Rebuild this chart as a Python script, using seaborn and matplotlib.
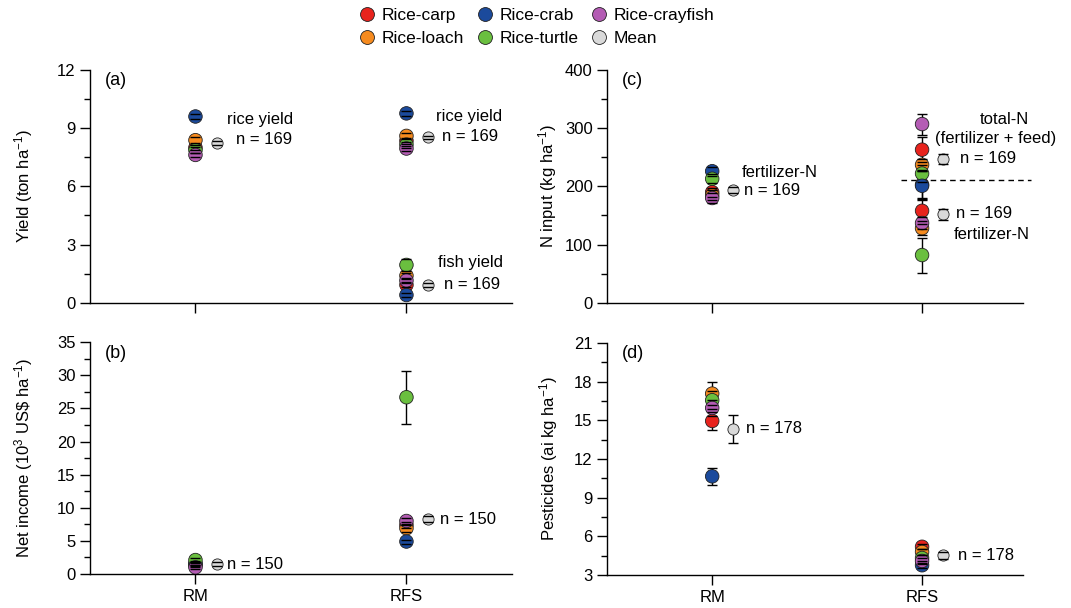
import numpy as np
import pandas as pd
import matplotlib
matplotlib.use("Agg")
import matplotlib.pyplot as plt
from matplotlib.lines import Line2D
from matplotlib.ticker import MultipleLocator
import seaborn as sns

# categories
types = ["Rice-carp", "Rice-loach", "Rice-crab", "Rice-turtle", "Rice-crayfish"]
systems = ["RM", "RFS"]
colors = {"Rice-carp": "#E8231D", "Rice-loach": "#F68B1F", "Rice-crab": "#1B4A9C",
          "Rice-turtle": "#6ABF3F", "Rice-crayfish": "#B45CB4", "Mean": "#D9D9D9"}

# (a) yield (ton/ha)
rice_yield_rm = [8.0, 8.38, 9.6, 7.87, 7.62]
rice_yield_rm_err = [0.15, 0.15, 0.12, 0.15, 0.12]
rice_yield_rm_mean = [8.25, 0.1]
rice_yield_rfs = [8.35, 8.6, 9.76, 8.15, 7.95]
rice_yield_rfs_err = [0.15, 0.15, 0.12, 0.15, 0.12]
rice_yield_rfs_mean = [8.52, 0.1]
fish_yield_rfs = [0.92, 1.4, 0.4, 1.95, 1.15]
fish_yield_rfs_err = [0.12, 0.12, 0.1, 0.3, 0.1]
fish_yield_rfs_mean = [0.92, 0.1]

# (b) net income (10^3 US$/ha)
income_rm = [1.3, 1.5, 1.6, 2.1, 1.0]
income_rm_err = [0.3, 0.3, 0.3, 0.3, 0.3]
income_rm_mean = [1.46, 0.3]
income_rfs = [7.4, 6.9, 4.9, 26.7, 8.0]
income_rfs_err = [0.5, 0.5, 0.3, 4.0, 0.4]
income_rfs_mean = [8.3, 0.5]

# (c) N input (kg/ha)
fertn_rm = [190, 185, 226, 213, 180]
fertn_rm_err = [8, 8, 8, 8, 8]
fertn_rm_mean = [194, 5]
totaln_rfs = [263, 237, 203, 222, 307]
totaln_rfs_err = [22, 10, 25, 15, 18]
totaln_rfs_mean = [247, 9]
fertn_rfs = [158, 128, 201, 82, 137]
fertn_rfs_err = [22, 12, 25, 30, 10]
fertn_rfs_mean = [152, 9]

# (d) pesticides (ai kg/ha)
pest_rm = [14.95, 17.07, 10.66, 16.56, 15.96]
pest_rm_err = [0.7, 0.9, 0.65, 0.7, 0.6]
pest_rm_mean = [14.36, 1.08]
pest_rfs = [5.2, 4.8, 3.77, 4.33, 4.1]
pest_rfs_err = [0.2, 0.2, 0.2, 0.2, 0.2]
pest_rfs_mean = [4.54, 0.25]


def make_df(pos, vals, errs, mean):
    df = pd.DataFrame({"type": types, "x": pos, "value": vals, "err": errs})
    m = pd.DataFrame({"type": ["Mean"], "x": [pos + 0.1], "value": [mean[0]], "err": [mean[1]]})
    return pd.concat([df, m], ignore_index=True)


def draw(ax, df):
    sns.scatterplot(data=df[df.type != "Mean"], x="x", y="value", hue="type", palette=colors,
                    s=95, edgecolor="#222222", linewidth=0.6, legend=False, ax=ax, zorder=3)
    sns.scatterplot(data=df[df.type == "Mean"], x="x", y="value", hue="type", palette=colors,
                    s=65, edgecolor="#222222", linewidth=0.6, legend=False, ax=ax, zorder=3)
    _, caps, bars = ax.errorbar(df.x, df.value, yerr=df.err, fmt="none", ecolor="black",
                                elinewidth=1, capsize=3.5, capthick=1, zorder=2)
    for c in caps:
        c.set_zorder(4)


sns.set_style("ticks")
plt.rcParams["font.family"] = ["Liberation Sans", "DejaVu Sans"]
plt.rcParams["mathtext.default"] = "regular"
for k in ["text.color", "axes.labelcolor", "xtick.color", "ytick.color"]:
    plt.rcParams[k] = "black"
fs = 12

fig = plt.figure(figsize=(10.71, 6.08), dpi=100)
axa = fig.add_axes([0.084, 0.502, 0.394, 0.383])
axb = fig.add_axes([0.084, 0.056, 0.394, 0.381])
axc = fig.add_axes([0.567, 0.502, 0.388, 0.383])
axd = fig.add_axes([0.567, 0.054, 0.388, 0.382])

# panel a
draw(axa, make_df(0, rice_yield_rm, rice_yield_rm_err, rice_yield_rm_mean))
draw(axa, make_df(1, rice_yield_rfs, rice_yield_rfs_err, rice_yield_rfs_mean))
draw(axa, make_df(1, fish_yield_rfs, fish_yield_rfs_err, fish_yield_rfs_mean))
axa.set_ylim(0, 12)
axa.yaxis.set_major_locator(MultipleLocator(3))
axa.yaxis.set_minor_locator(MultipleLocator(1.5))
axa.set_ylabel("Yield (ton ha$^{-1}$)", fontsize=fs, labelpad=16)
axa.text(0.15, 9.47, "rice yield", fontsize=fs, va="center")
axa.text(0.19, 8.4, "n = 169", fontsize=fs, va="center")
axa.text(1.14, 9.58, "rice yield", fontsize=fs, va="center")
axa.text(1.17, 8.55, "n = 169", fontsize=fs, va="center")
axa.text(1.15, 2.06, "fish yield", fontsize=fs, va="center")
axa.text(1.18, 0.93, "n = 169", fontsize=fs, va="center")

# panel b
draw(axb, make_df(0, income_rm, income_rm_err, income_rm_mean))
draw(axb, make_df(1, income_rfs, income_rfs_err, income_rfs_mean))
axb.set_ylim(0, 35)
axb.yaxis.set_major_locator(MultipleLocator(5))
axb.yaxis.set_minor_locator(MultipleLocator(2.5))
axb.set_ylabel("Net income (10$^{3}$ US\\$ ha$^{-1}$)", fontsize=fs, labelpad=16)
axb.text(0.15, 1.5, "n = 150", fontsize=fs, va="center")
axb.text(1.16, 8.3, "n = 150", fontsize=fs, va="center")

# panel c
draw(axc, make_df(0, fertn_rm, fertn_rm_err, fertn_rm_mean))
draw(axc, make_df(1, totaln_rfs, totaln_rfs_err, totaln_rfs_mean))
draw(axc, make_df(1, fertn_rfs, fertn_rfs_err, fertn_rfs_mean))
axc.set_ylim(0, 400)
axc.yaxis.set_major_locator(MultipleLocator(100))
axc.yaxis.set_minor_locator(MultipleLocator(50))
axc.set_ylabel("N input (kg ha$^{-1}$)", fontsize=fs)
axc.text(0.14, 224, "fertilizer-N", fontsize=fs, va="center")
axc.text(0.15, 193, "n = 169", fontsize=fs, va="center")
axc.text(1.39, 315, "total-N", fontsize=fs, va="center", ha="center")
axc.text(1.35, 283, "(fertilizer + feed)", fontsize=fs, va="center", ha="center")
axc.text(1.18, 247, "n = 169", fontsize=fs, va="center")
axc.text(1.16, 153, "n = 169", fontsize=fs, va="center")
axc.text(1.33, 117, "fertilizer-N", fontsize=fs, va="center", ha="center")
axc.plot([0.9, 1.52], [211, 211], ls=(0, (4, 3)), color="black", lw=1, clip_on=False)

# panel d
draw(axd, make_df(0, pest_rm, pest_rm_err, pest_rm_mean))
draw(axd, make_df(1, pest_rfs, pest_rfs_err, pest_rfs_mean))
axd.set_ylim(3, 21)
axd.yaxis.set_major_locator(MultipleLocator(3))
axd.yaxis.set_minor_locator(MultipleLocator(1.5))
axd.set_ylabel("Pesticides (ai kg ha$^{-1}$)", fontsize=fs, labelpad=10)
axd.text(0.16, 14.4, "n = 178", fontsize=fs, va="center")
axd.text(1.17, 4.55, "n = 178", fontsize=fs, va="center")

for ax, lab in zip([axa, axb, axc, axd], ["(a)", "(b)", "(c)", "(d)"]):
    ax.set_xlim(-0.5, 1.48 if ax in (axc, axd) else 1.5)
    ax.set_xticks([0, 1])
    ax.set_xlabel("")
    if ax in (axb, axd):
        ax.set_xticklabels(systems, fontsize=fs)
    else:
        ax.set_xticklabels([])
    ax.tick_params(axis="both", which="major", length=7, width=1, labelsize=fs, color="black")
    ax.tick_params(axis="y", which="minor", length=4, width=1, color="black")
    for s in ["left", "bottom"]:
        ax.spines[s].set_linewidth(1)
        ax.spines[s].set_color("black")
    sns.despine(ax=ax)
    ax.text(0.035, 0.99, lab, transform=ax.transAxes, fontsize=fs + 1, va="top")

order = ["Rice-carp", "Rice-loach", "Rice-crab", "Rice-turtle", "Rice-crayfish", "Mean"]
handles = [Line2D([], [], marker="o", ls="", markersize=10, markerfacecolor=colors[k],
                  markeredgecolor="#222222", markeredgewidth=0.6, label=k) for k in order]
fig.legend(handles=handles, ncol=3, loc="upper center", bbox_to_anchor=(0.5, 1.012),
           frameon=False, fontsize=12.5, handletextpad=0.25, columnspacing=0.6,
           labelspacing=0.45, handlelength=1.2)

fig.savefig("out.png", dpi=100)
